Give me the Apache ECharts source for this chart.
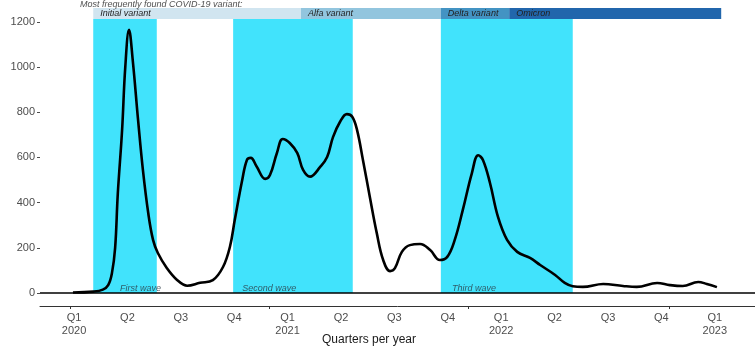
<!DOCTYPE html>
<html>
<head>
<meta charset="utf-8">
<script src="https://cdn.jsdelivr.net/npm/echarts@6.0.0/dist/echarts.min.js"></script>
<style>
  html, body { margin: 0; padding: 0; background: #fff; }
  #chart { width: 755px; height: 353px; }
</style>
</head>
<body>
<div id="chart"></div>
<script>
// x positions are in quarters, 0 = Q1 2020
const quarterPos = [
  -0.02, 0.36, 0.54, 0.64, 0.71, 0.77, 0.82, 0.90, 0.96, 1.03, 1.10, 1.20, 1.29, 1.39,
  1.48, 1.57, 1.74, 1.93, 2.12, 2.36, 2.60, 2.79, 2.92, 3.01, 3.15, 3.24, 3.31, 3.42,
  3.58, 3.67, 3.80, 3.91, 4.04, 4.18, 4.29, 4.42, 4.61, 4.74, 4.85, 4.98, 5.11, 5.21,
  5.30, 5.41, 5.54, 5.67, 5.79, 5.92, 6.01, 6.14, 6.29, 6.48, 6.67, 6.85, 6.99, 7.13,
  7.28, 7.45, 7.57, 7.66, 7.79, 7.94, 8.11, 8.30, 8.54, 8.73, 9.01, 9.19, 9.34, 9.53,
  9.91, 10.28, 10.54, 10.92, 11.16, 11.40, 11.69, 11.85, 12.04
];
const icuPatients = [
  2, 6, 15, 35, 88, 200, 440, 720, 1000, 1165, 1030, 765, 545, 354,
  235, 177, 110, 58, 32, 45, 57, 115, 205, 323, 500, 590, 598, 560,
  505, 522, 620, 682, 664, 620, 545, 515, 558, 602, 690, 757, 792, 780,
  722, 590, 425, 265, 146, 97, 110, 182, 212, 217, 190, 146, 160, 235,
  367, 530, 610, 588, 487, 337, 235, 182, 155, 124, 80, 45, 30, 27,
  40, 31, 27, 44, 35, 31, 49, 40, 26
];

const quarterLabels = ["Q1\n2020", "Q2", "Q3", "Q4", "Q1\n2021", "Q2", "Q3", "Q4",
  "Q1\n2022", "Q2", "Q3", "Q4", "Q1\n2023"];
const quarterTicks = [0, 1, 2, 3, 4, 5, 6, 7, 8, 9, 10, 11, 12];
const yearTicks = [-0.075, 3.65, 7.39, 11.14];
const yTicks = [0, 200, 400, 600, 800, 1000, 1200];

// waves (shaded)
const waveNames = ["First wave", "Second wave", "Third wave"];
const waveStart = [0.36, 2.98, 6.87];
const waveEnd = [1.55, 5.22, 9.34];
const waveLabelX = [0.86, 3.15, 7.08];

// dominant variant banner
const variantNames = ["Initial variant", "Alfa variant", "Delta variant", "Omicron"];
const variantStart = [0.36, 4.25, 6.87, 8.15];
const variantEnd = [4.25, 6.87, 8.15, 12.12];
const variantColors = ["#d1e5f0", "#92c5de", "#4393c3", "#2166ac"];

const bandTop = 1213;
const bannerTop = 1262;

const font = "Liberation Sans";

let chart = echarts.init(document.getElementById("chart"));

let seriesData = quarterPos.map((x, i) => [x, icuPatients[i]]);

let waveAreas = waveNames.map((n, i) => [
  { xAxis: waveStart[i], yAxis: 0, itemStyle: { color: "#41e3fc" } },
  { xAxis: waveEnd[i], yAxis: bandTop }
]);

let bannerAreas = variantNames.map((n, i) => [
  {
    name: n,
    xAxis: variantStart[i],
    yAxis: bandTop,
    itemStyle: { color: variantColors[i] }
  },
  { xAxis: variantEnd[i], yAxis: bannerTop }
]);

let option = {
  animation: false,
  grid: { left: 40, right: 0, top: 0, bottom: 47, outerBoundsMode: "none", containLabel: false },
  xAxis: {
    type: "value",
    min: -0.637,
    max: 12.753,
    splitLine: { show: false },
    axisLine: { show: true, onZero: false, lineStyle: { color: "#333", width: 1 } },
    axisTick: {
      show: true,
      length: 3,
      customValues: yearTicks,
      lineStyle: { color: "#333" }
    },
    axisLabel: {
      customValues: quarterTicks,
      formatter: (v) => quarterLabels[Math.round(v)],
      color: "#4d4d4d",
      fontFamily: font,
      fontSize: 11,
      lineHeight: 13,
      margin: 5
    }
  },
  yAxis: {
    type: "value",
    min: -57.5,
    max: 1297,
    name: "Number of confirmed COVID-19 patients at the ICU",
    nameLocation: "middle",
    nameGap: 32,
    nameTextStyle: { color: "#1a1a1a", fontFamily: font, fontSize: 11 },
    splitLine: { show: false },
    axisLine: { show: false, onZero: false },
    axisTick: {
      show: true,
      length: 3,
      customValues: yTicks,
      lineStyle: { color: "#4d4d4d" }
    },
    axisLabel: {
      customValues: yTicks,
      formatter: (v) => String(v),
      color: "#4d4d4d",
      fontFamily: font,
      fontSize: 11,
      margin: 5
    }
  },
  series: [
    {
      type: "line",
      data: seriesData,
      smooth: 0.4,
      showSymbol: false,
      symbol: "none",
      z: 5,
      lineStyle: { color: "#000", width: 2.6 },
      markArea: {
        silent: true,
        data: waveAreas.concat(bannerAreas),
        label: {
          show: true,
          position: "insideLeft",
          distance: 7,
          fontStyle: "italic",
          fontFamily: font,
          fontSize: 9,
          color: "#222"
        }
      },
      markLine: {
        silent: true,
        symbol: "none",
        label: { show: false },
        lineStyle: { color: "#000", width: 1.5, type: "solid" },
        data: [{ yAxis: 0 }]
      }
    },
    {
      type: "scatter",
      symbolSize: 0,
      z: 6,
      silent: true,
      data: waveNames.map((n, i) => ({ name: n, value: [waveLabelX[i], 22] })),
      label: {
        show: true,
        position: "right",
        distance: 0,
        formatter: (p) => p.name,
        fontStyle: "italic",
        fontFamily: font,
        fontSize: 9,
        color: "#2a3a44"
      }
    },
    {
      type: "scatter",
      symbolSize: 0,
      z: 6,
      silent: true,
      data: [{ name: "Most frequently found COVID-19 variant:", value: [0.11, 1279] }],
      label: {
        show: true,
        position: "right",
        distance: 0,
        formatter: (p) => p.name,
        fontStyle: "italic",
        fontFamily: font,
        fontSize: 9,
        color: "#222"
      }
    }
  ],
  graphic: [
    {
      type: "text",
      left: 322,
      top: 334,
      style: {
        text: "Quarters per year",
        fontFamily: font,
        fontSize: 12,
        fill: "#1a1a1a"
      }
    }
  ]
};

option && chart.setOption(option);
</script>
</body>
</html>
